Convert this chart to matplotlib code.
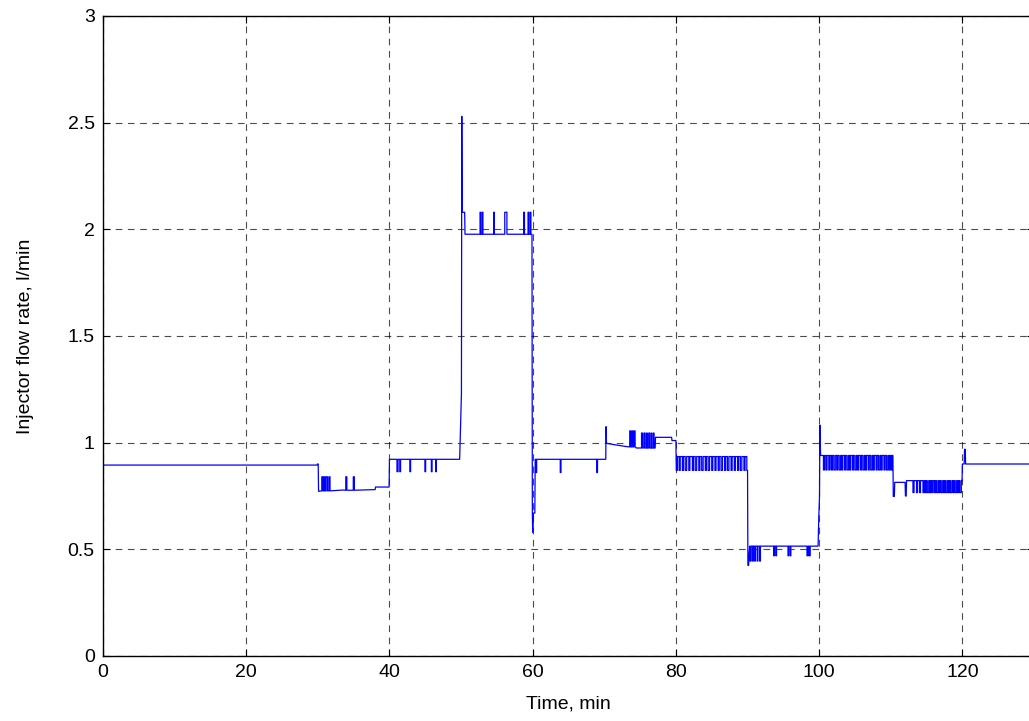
import matplotlib
matplotlib.use('Agg')
import matplotlib.pyplot as plt

plt.rcParams['font.family'] = ['Liberation Sans', 'DejaVu Sans']

# main shape of the signal: corner points joined by straight lines (minutes, l/min)
main_t = [0, 29.9, 29.95, 30.05, 30.1, 33.5, 38.0, 38.05, 39.95, 40.0,
          49.8, 50.05, 50.1, 50.15, 50.5, 50.55, 59.9, 59.95, 60.0, 60.1,
          60.3, 60.35, 70.2, 70.25, 70.3, 71.5, 73.0, 74.4, 74.45, 77.1,
          77.15, 79.4, 79.45, 80.0, 80.05, 90.0, 90.05, 90.15, 90.2, 90.3,
          99.85, 99.95, 100.05, 100.1, 100.2, 110.3, 110.35, 110.5, 110.55, 112.0,
          112.05, 112.15, 112.2, 119.95, 120.0, 120.25, 120.3, 120.4, 120.45, 132.0]
main_v = [0.895, 0.895, 0.900, 0.900, 0.772, 0.778, 0.780, 0.792, 0.792, 0.922,
          0.922, 1.230, 2.530, 2.080, 2.080, 1.977, 1.977, 0.670, 0.580, 0.670,
          0.670, 0.922, 0.922, 1.075, 0.997, 0.990, 0.982, 0.978, 0.975, 0.975,
          1.025, 1.025, 1.010, 1.010, 0.870, 0.870, 0.425, 0.425, 0.470, 0.515,
          0.515, 0.650, 0.750, 1.083, 0.940, 0.940, 0.748, 0.748, 0.814, 0.814,
          0.750, 0.750, 0.822, 0.822, 0.900, 0.900, 0.969, 0.969, 0.900, 0.900]

# switching pulses on top of the main shape: base level, pulse level, on/off times
pulse_base = [0.774, 0.777, 0.922, 1.977, 0.922, 0.980, 0.975, 0.870, 0.515, 0.515, 0.940, 0.822]
pulse_peak = [0.840, 0.840, 0.864, 2.080, 0.860, 1.055, 1.045, 0.935, 0.445, 0.470, 0.872, 0.766]
pulse_times = [
    [30.55, 30.7, 30.85, 31.0, 31.15, 31.35, 31.55, 31.7],
    [33.9, 34.05, 34.95, 35.1],
    [41.05, 41.2, 41.45, 41.55, 42.85, 42.95, 44.95, 45.05, 45.85, 45.95, 46.45, 46.55],
    [52.65, 52.75, 52.95, 53.05, 54.55, 54.65, 56.1, 56.4, 58.75, 58.85, 59.35, 59.45, 59.65, 59.75],
    [60.45, 60.55, 63.85, 63.95, 68.95, 69.05],
    [73.55, 73.7, 73.85, 74.0, 74.15, 74.3],
    [75.2, 75.35, 75.55, 75.7, 75.9, 76.0, 76.2, 76.35, 76.55, 76.65, 76.85, 76.95],
    [80.2, 80.45, 80.6, 80.9, 81.05, 81.3, 81.5, 81.8, 81.95, 82.3, 82.45, 82.7,
     82.9, 83.2, 83.35, 83.6, 83.8, 84.1, 84.25, 84.5, 84.7, 85.0, 85.15, 85.45,
     85.6, 85.9, 86.05, 86.3, 86.5, 86.8, 86.95, 87.2, 87.4, 87.7, 87.85, 88.15,
     88.3, 88.6, 88.75, 89.0, 89.2, 89.5, 89.65, 89.9],
    [90.35, 90.5, 90.7, 90.8, 91.0, 91.1, 91.35, 91.45, 91.7, 91.8],
    [93.65, 93.75, 93.95, 94.05, 95.65, 95.75, 95.95, 96.05, 98.3, 98.45, 98.6, 98.75],
    [100.6, 100.75, 100.95, 101.1, 101.35, 101.5, 101.7, 101.85, 102.05, 102.25,
     102.45, 102.6, 102.8, 103.0, 103.15, 103.3, 103.55, 103.7, 103.9, 104.1,
     104.25, 104.4, 104.65, 104.8, 105.0, 105.2, 105.35, 105.5, 105.75, 105.9,
     106.1, 106.3, 106.45, 106.6, 106.85, 107.0, 107.2, 107.4, 107.55, 107.7,
     107.95, 108.1, 108.3, 108.5, 108.65, 108.8, 109.05, 109.2, 109.4, 109.6,
     109.75, 109.9, 110.05, 110.2],
    [113.1, 113.25, 113.6, 113.7, 114.0, 114.15, 114.5, 114.65, 114.8, 114.95,
     115.1, 115.3, 115.45, 115.6, 115.75, 115.9, 116.1, 116.25, 116.4, 116.6,
     116.75, 116.9, 117.05, 117.25, 117.4, 117.55, 117.7, 117.9, 118.05, 118.2,
     118.35, 118.55, 118.7, 118.85, 119.0, 119.2, 119.35, 119.5, 119.65, 119.85],
]

x_ticks = [0, 20, 40, 60, 80, 100, 120]
y_ticks = [0, 0.5, 1, 1.5, 2, 2.5, 3]
y_tick_labels = ['0', '0.5', '1', '1.5', '2', '2.5', '3']


def build_signal():
    pts = list(zip(main_t, main_v))
    for base, peak, times in zip(pulse_base, pulse_peak, pulse_times):
        for a, b in zip(times[0::2], times[1::2]):
            pts += [(a, base), (a, peak), (b, peak), (b, base)]
    # stable sort keeps vertical jumps in their order
    pts.sort(key=lambda p: p[0])
    return [p[0] for p in pts], [p[1] for p in pts]


def make_plot():
    t, v = build_signal()

    fig = plt.figure(figsize=(10.29, 7.21), dpi=100)
    ax = fig.add_axes([103 / 1029, 65 / 721, 931 / 1029, 640 / 721])

    ax.plot(t, v, color='#0000ff', linewidth=0.9)

    ax.set_xlim(0, 130)
    ax.set_ylim(0, 3)
    ax.set_xticks(x_ticks)
    ax.set_yticks(y_ticks)
    ax.set_yticklabels(y_tick_labels)

    ax.grid(True, color='black', linestyle=(0, (6, 5)), linewidth=0.8, alpha=0.7)
    ax.tick_params(direction='in', length=5, labelsize=14, top=True, right=True, pad=6)
    for s in ax.spines.values():
        s.set_linewidth(1.0)

    ax.set_xlabel('Time, min', fontsize=14, labelpad=10)
    ax.set_ylabel('Injector flow rate, l/min', fontsize=14, labelpad=24)

    fig.savefig('out.png', dpi=100)


if __name__ == '__main__':
    make_plot()
